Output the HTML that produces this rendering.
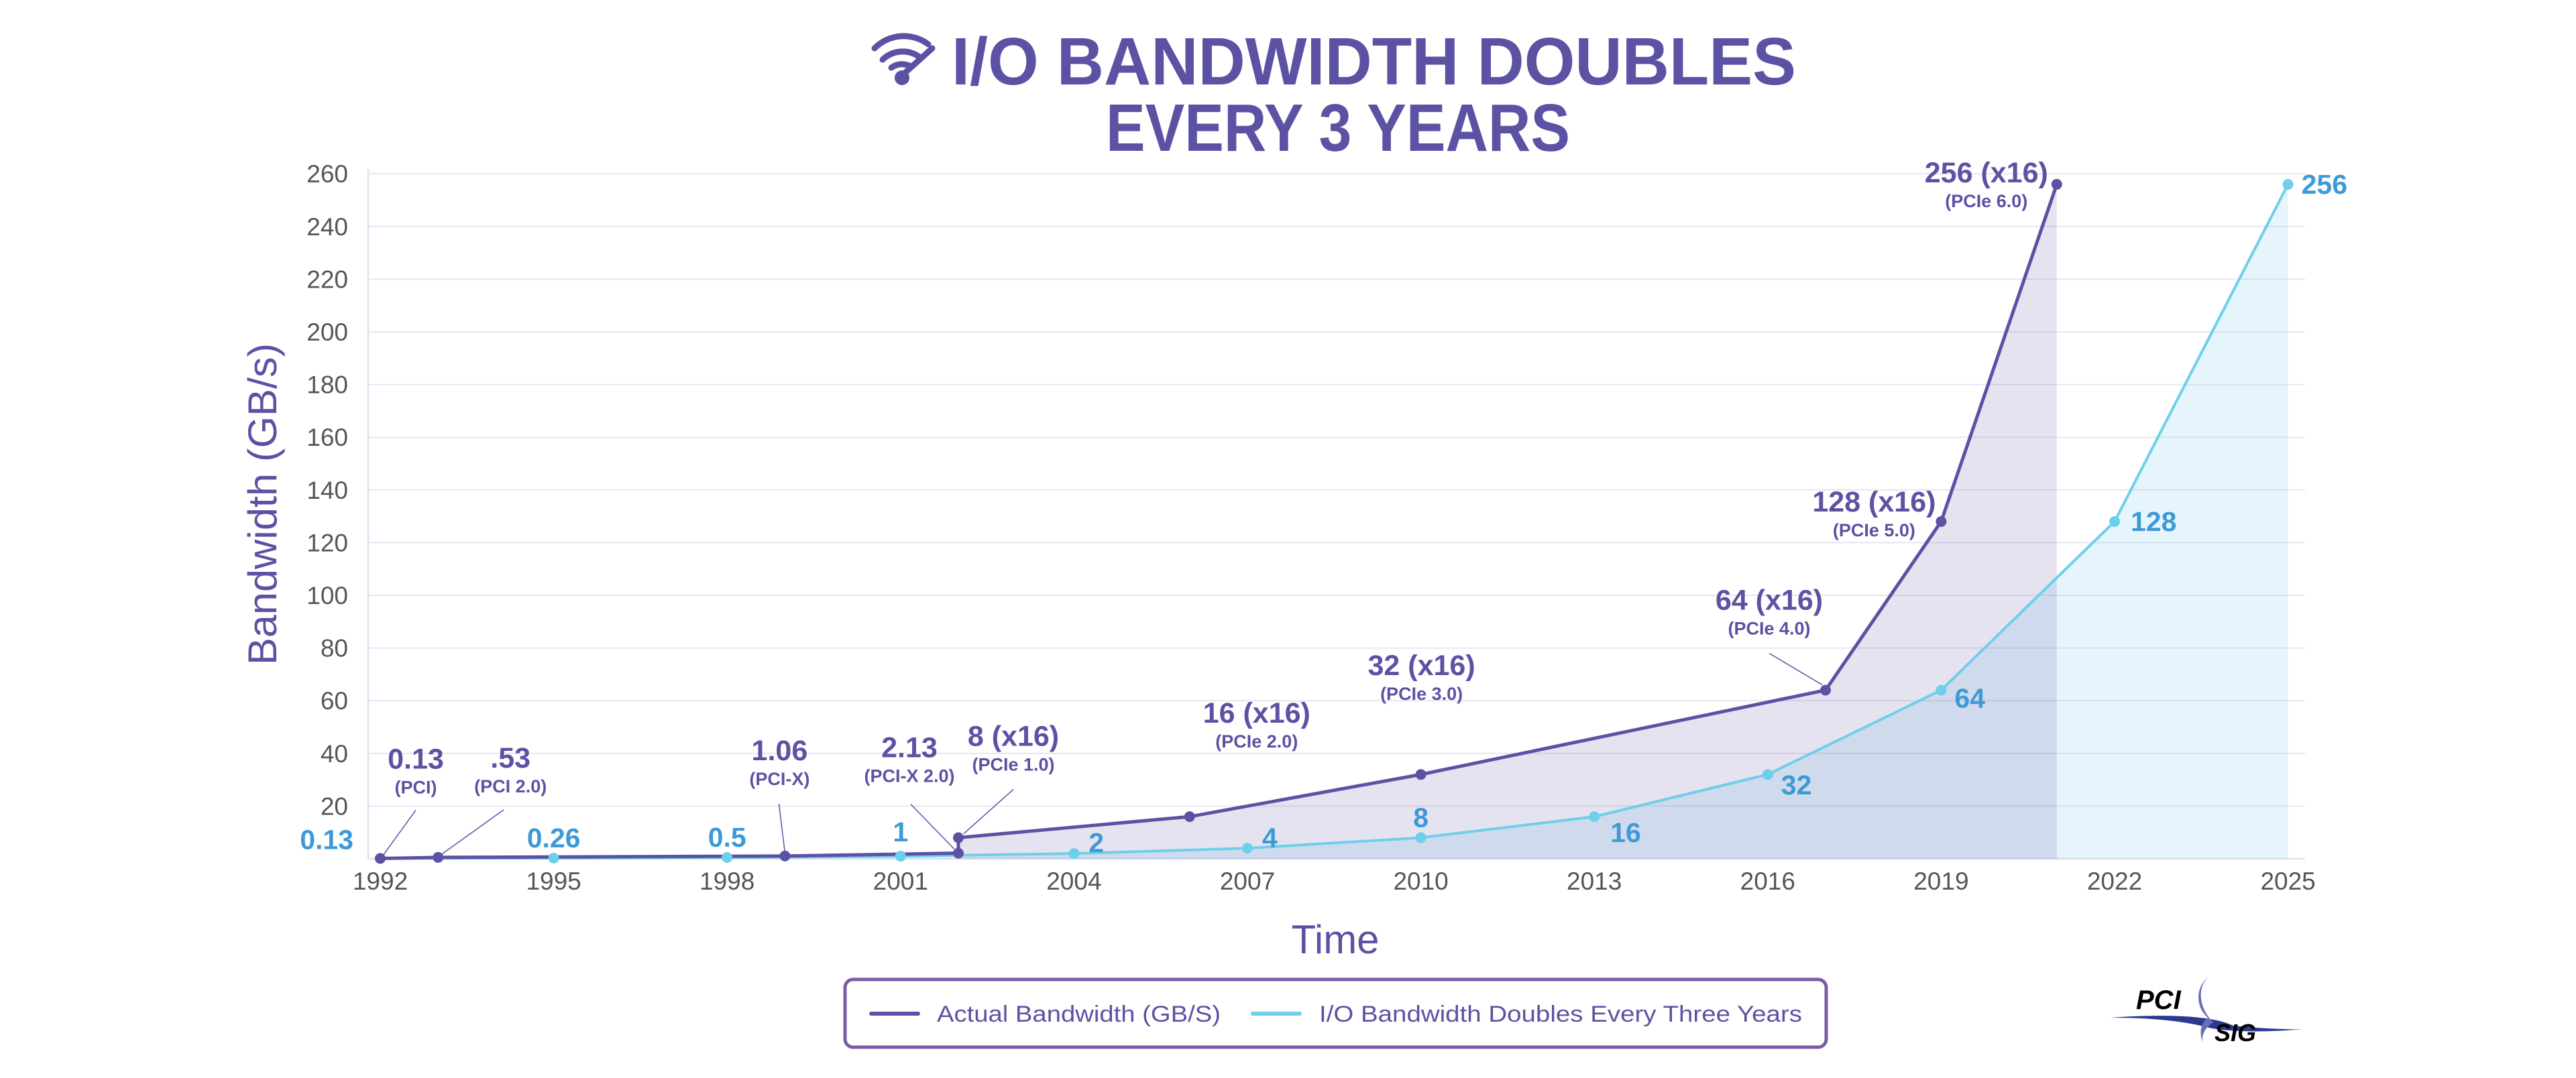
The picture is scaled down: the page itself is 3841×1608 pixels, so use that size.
<!DOCTYPE html>
<html><head><meta charset="utf-8"><style>
html,body{margin:0;padding:0;background:#fff;}
svg{display:block;font-family:"Liberation Sans",sans-serif;}
</style></head><body>
<svg id="chart" width="3841" height="1608" viewBox="0 0 3841 1608">
<g>
  <g fill="none" stroke="#5b52a3" stroke-linecap="round">
    <path d="M1304,72 A61,61 0 0 1 1384,66" stroke-width="9"/>
    <path d="M1316,89 A43,43 0 0 1 1371,85" stroke-width="9"/>
    <path d="M1329,101 A27,27 0 0 1 1358,99" stroke-width="9"/>
    <line x1="1350" y1="108" x2="1390" y2="72" stroke-width="9"/>
    <circle cx="1345" cy="116" r="11" fill="#5b52a3" stroke="none"/>
  </g>
  <text x="1419" y="126" font-size="100" font-weight="bold" fill="#5b52a3" textLength="1259" lengthAdjust="spacingAndGlyphs">I/O BANDWIDTH DOUBLES</text>
  <text x="1649" y="225" font-size="100" font-weight="bold" fill="#5b52a3" textLength="692" lengthAdjust="spacingAndGlyphs">EVERY 3 YEARS</text>
</g>
<g id="grid"></g>
<g id="fills"></g>
<g id="lines"></g>
<g id="labels"></g>
<text transform="translate(412,752) rotate(-90)" text-anchor="middle" font-size="60" fill="#5b52a3" textLength="480" lengthAdjust="spacingAndGlyphs">Bandwidth (GB/s)</text>
<text x="1991" y="1422" text-anchor="middle" font-size="60" fill="#5b52a3">Time</text>
<g>
  <rect x="1260" y="1461" width="1463" height="101" rx="12" fill="#fff" stroke="#7a5ca8" stroke-width="5"/>
  <line x1="1299" y1="1512" x2="1369" y2="1512" stroke="#5b52a3" stroke-width="6" stroke-linecap="round"/>
  <text x="1397" y="1524" font-size="34" fill="#5b52a3" textLength="423" lengthAdjust="spacingAndGlyphs">Actual Bandwidth (GB/S)</text>
  <line x1="1868" y1="1512" x2="1938" y2="1512" stroke="#6ecfea" stroke-width="6" stroke-linecap="round"/>
  <text x="1967" y="1524" font-size="34" fill="#5b52a3" textLength="720" lengthAdjust="spacingAndGlyphs">I/O Bandwidth Doubles Every Three Years</text>
</g>
<g>
  <path d="M3146,1518 C3230,1512 3300,1515 3330,1530 C3380,1535 3420,1536 3436,1535 C3380,1540 3320,1540 3290,1532 C3250,1522 3200,1518 3146,1518 Z" fill="#2b3990"/>
  <path d="M3292,1458 C3275,1475 3280,1505 3300,1525 C3285,1535 3282,1548 3285,1556 C3278,1540 3282,1525 3292,1518 C3272,1500 3275,1472 3292,1458 Z" fill="#6a6fb5"/>
  <text x="3185" y="1505" font-size="40" font-weight="bold" font-style="italic" fill="#000">PCI</text>
  <text x="3302" y="1553" font-size="36" font-weight="bold" font-style="italic" fill="#000">SIG</text>
</g>
<script>
const yTicks = [20,40,60,80,100,120,140,160,180,200,220,240,260];
const xTicks = [1992,1995,1998,2001,2004,2007,2010,2013,2016,2019,2022,2025];
const actualYears = [1992,1993,1999,2002,2002,2006,2010,2017,2019,2021];
const actualValues = [0.13,0.53,1.06,2.13,8,16,32,64,128,256];
const actualLabels = ["0.13",".53","1.06","2.13","8 (x16)","16 (x16)","32 (x16)","64 (x16)","128 (x16)","256 (x16)"];
const actualSubs = ["(PCI)","(PCI 2.0)","(PCI-X)","(PCI-X 2.0)","(PCIe 1.0)","(PCIe 2.0)","(PCIe 3.0)","(PCIe 4.0)","(PCIe 5.0)","(PCIe 6.0)"];
const trendYears = [1992,1995,1998,2001,2004,2007,2010,2013,2016,2019,2022,2025];
const trendValues = [0.13,0.26,0.5,1,2,4,8,16,32,64,128,256];
const trendLabels = ["0.13","0.26","0.5","1","2","4","8","16","32","64","128","256"];

const NS = "http://www.w3.org/2000/svg";
const X0 = 567, PX_YR = 86.2, Y0 = 1281, PX_U = 3.93, LEFT = 549, RIGHT = 3437;
const xs = y => X0 + (y - 1992) * PX_YR;
const ys = v => Y0 - v * PX_U;
function mk(tag, attrs, parent, txt) {
  const e = document.createElementNS(NS, tag);
  for (const k in attrs) e.setAttribute(k, attrs[k]);
  if (txt !== undefined) e.textContent = txt;
  parent.appendChild(e);
  return e;
}
const grid = document.getElementById('grid');
yTicks.forEach(t => {
  const l = mk('line', {x1: LEFT, x2: RIGHT, y1: ys(t), y2: ys(t), stroke: '#e6e6f2', 'stroke-width': 2}, grid);
  
  
  const tx = mk('text', {x: 519, y: ys(t) + 13, 'text-anchor': 'end', 'font-size': 37, fill: '#555'}, grid, String(t));
  
  
});
const ax = mk('line', {x1: LEFT, x2: LEFT, y1: 252, y2: Y0, stroke: '#e4e4f2', 'stroke-width': 3}, grid);


const bx = mk('line', {x1: LEFT, x2: RIGHT, y1: Y0, y2: Y0, stroke: '#e4e4f2', 'stroke-width': 3}, grid);


xTicks.forEach(t => {
  const tx = mk('text', {x: xs(t), y: 1327, 'text-anchor': 'middle', 'font-size': 37, fill: '#555'}, grid, String(t));
  
  
});

const fills = document.getElementById('fills');
let tp = trendYears.map((y, i) => xs(y) + ',' + ys(trendValues[i])).join(' ');
tp += ' ' + xs(trendYears[trendYears.length - 1]) + ',' + Y0 + ' ' + xs(trendYears[0]) + ',' + Y0;
const tf = mk('polygon', {points: tp, fill: 'rgba(125,205,235,0.2)'}, fills);


const startIdx = 3;
let ap = '';
for (let i = startIdx; i < actualYears.length; i++) ap += xs(actualYears[i]) + ',' + ys(actualValues[i]) + ' ';
ap += xs(actualYears[actualYears.length - 1]) + ',' + Y0 + ' ' + xs(actualYears[startIdx]) + ',' + Y0;
const af = mk('polygon', {points: ap, fill: 'rgba(91,82,163,0.16)'}, fills);



const lines = document.getElementById('lines');
const tl = mk('polyline', {points: trendYears.map((y, i) => xs(y) + ',' + ys(trendValues[i])).join(' '), fill: 'none', stroke: '#6ecfea', 'stroke-width': 4}, lines);


const al = mk('polyline', {points: actualYears.map((y, i) => xs(y) + ',' + ys(actualValues[i])).join(' '), fill: 'none', stroke: '#5b52a3', 'stroke-width': 5}, lines);


trendYears.forEach((y, i) => {
  const c = mk('circle', {cx: xs(y), cy: ys(trendValues[i]), r: 8, fill: '#6ecfea'}, lines);
  
  
});
actualYears.forEach((y, i) => {
  const c = mk('circle', {cx: xs(y), cy: ys(actualValues[i]), r: 8, fill: '#5b52a3'}, lines);
  
  
});

const labels = document.getElementById('labels');
// label offsets relative to point (layout, not data)
const aOff = [[53,-134],[108,-134],[-8,-143],[-73,-143],[82,-137],[100,-140],[1,-148],[-84,-120],[-100,-15],[-105,-3]];
const aLead = [[53,-72,3,-3],[98,-71,3,-3],[-9,-78,0,-5],[-71,-73,-6,-6],[82,-72,8,-6],null,null,[-84,-55,-5,-8],null,null];
actualYears.forEach((y, i) => {
  const px = xs(y), py = ys(actualValues[i]);
  const cx = px + aOff[i][0], cy = py + aOff[i][1];
  const t1 = mk('text', {x: cx, y: cy, 'text-anchor': 'middle', 'font-size': 43, 'font-weight': 'bold', fill: '#5b52a3'}, labels, actualLabels[i]);
  
  
  const t2 = mk('text', {x: cx, y: cy + 37, 'text-anchor': 'middle', 'font-size': 27, 'font-weight': 'bold', fill: '#5b52a3'}, labels, actualSubs[i]);
  
  
  if (aLead[i]) {
    const ld = aLead[i];
    const ln = mk('line', {x1: px + ld[0], y1: py + ld[1], x2: px + ld[2], y2: py + ld[3], stroke: '#5b52a3', 'stroke-width': 1.5}, labels);
    
    
  }
});
const tOff = [[-40,-14,'end'],[0,-16,'middle'],[0,-16,'middle'],[0,-22,'middle'],[22,-2,'start'],[22,-2,'start'],[0,-16,'middle'],[24,38,'start'],[20,30,'start'],[20,26,'start'],[24,14,'start'],[20,14,'start']];
trendYears.forEach((y, i) => {
  const t = mk('text', {x: xs(y) + tOff[i][0], y: ys(trendValues[i]) + tOff[i][1], 'text-anchor': tOff[i][2], 'font-size': 41, 'font-weight': 'bold', fill: '#3d9ad6'}, labels, trendLabels[i]);
  
  
});
</script>
</svg>
</body></html>
